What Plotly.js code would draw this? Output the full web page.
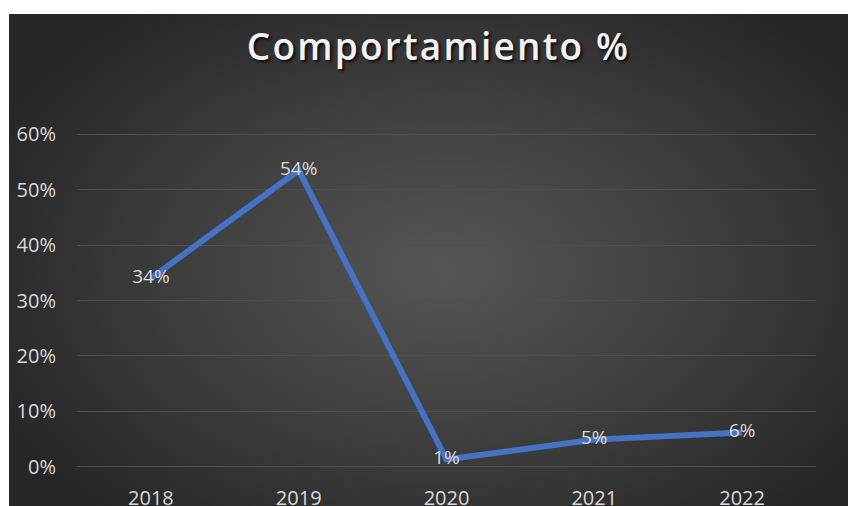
<!DOCTYPE html>
<html>
<head>
<meta charset="utf-8">
<script src="https://cdn.plot.ly/plotly-3.0.1.min.js"></script>
<style>
  html, body { margin: 0; padding: 0; width: 848px; height: 506px; overflow: hidden; background: #ffffff; }
  #chart {
    position: absolute; left: 9px; top: 14px; width: 839px; height: 510px;
    background: radial-gradient(ellipse 60% 65% at 52% 50%, #565656 0%, #3a3a3a 60%, #262626 100%);
  }
  #chart .gtitle { letter-spacing: 2.2px; }
</style>
</head>
<body>
<div id="chart"></div>
<script>
const years = ['2018', '2019', '2020', '2021', '2022'];
const values = [0.34, 0.535, 0.013, 0.049, 0.062];
const labels = ['34%', '54%', '1%', '5%', '6%'];
const yTickVals = [0, 0.1, 0.2, 0.3, 0.4, 0.5, 0.6];
const yTickText = ['0%', '10%', '20%', '30%', '40%', '50%', '60%'];
const chartTitle = 'Comportamiento %';

const trace = {
  x: years,
  y: values,
  type: 'scatter',
  mode: 'lines+text',
  text: labels,
  textposition: 'middle center',
  textfont: { family: 'Open Sans, sans-serif', size: 19, color: '#d9d9d9' },
  line: { color: '#4472C4', width: 6 },
  cliponaxis: false,
  hoverinfo: 'skip'
};

const layout = {
  width: 839,
  height: 510,
  paper_bgcolor: 'rgba(0,0,0,0)',
  plot_bgcolor: 'rgba(0,0,0,0)',
  margin: { l: 68, r: 32, t: 118, b: 55 },
  showlegend: false,
  title: {
    text: chartTitle,
    font: { family: 'Open Sans, sans-serif', size: 37, color: '#f2f2f2', weight: 600, shadow: '2px 2px 3px rgba(0,0,0,0.8)' },
    x: 0.512, xref: 'container', xanchor: 'center',
    y: 0.935, yref: 'container', yanchor: 'middle'
  },
  xaxis: {
    type: 'category',
    range: [-0.5, 4.5],
    showgrid: false,
    zeroline: false,
    showline: false,
    ticks: '',
    ticklabelstandoff: 15,
    tickfont: { family: 'Open Sans, sans-serif', size: 20, color: '#d9d9d9' },
    fixedrange: true
  },
  yaxis: {
    range: [-0.004, 0.604],
    tickvals: yTickVals,
    ticktext: yTickText,
    showgrid: true,
    gridcolor: '#4f4f4f',
    gridwidth: 1,
    zeroline: false,
    showline: false,
    ticks: '',
    ticklabelstandoff: 20,
    tickfont: { family: 'Open Sans, sans-serif', size: 20, color: '#d9d9d9' },
    fixedrange: true
  }
};

Plotly.newPlot('chart', [trace], layout, { displayModeBar: false, staticPlot: true });
</script>
</body>
</html>
